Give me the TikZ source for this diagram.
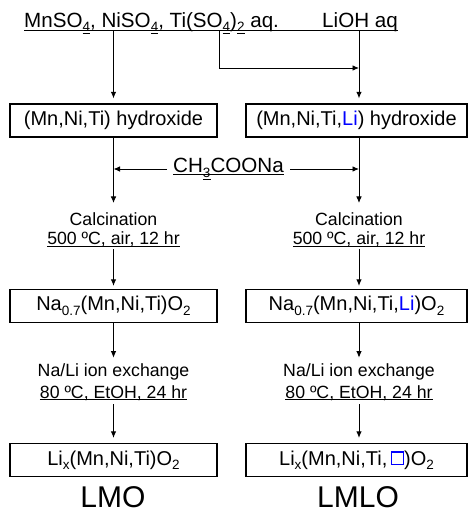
\documentclass[tikz,border=0pt]{standalone}
\usepackage{fontspec}
\setmainfont{Liberation Sans}
\usetikzlibrary{arrows.meta}
\newcommand\sbs[1]{\raisebox{-0.22em}{\fontsize{13.5}{13.5}\selectfont #1}}
\newcommand\ulin[1]{\underline{\smash{#1}}}
\newcommand\bluesq{\tikz[baseline=0pt]\draw[blue, line width=1.4pt] (0pt,0.5pt) rectangle (12pt,13pt);}
\begin{document}
\begin{tikzpicture}[x=1pt,y=-1pt,
  box/.style={draw, line width=1.3pt, inner sep=0pt, font=\fontsize{20}{24}\selectfont},
  boxL/.style={box, minimum width=207pt, minimum height=33pt},
  boxR/.style={box, minimum width=221pt, minimum height=33pt},
  lbl/.style={inner sep=0pt, font=\fontsize{17.7}{20}\selectfont},
  big/.style={inner sep=0pt, font=\fontsize{20.6}{24}\selectfont},
  huge/.style={inner sep=0pt, font=\fontsize{30}{34}\selectfont},
  arr/.style={-{Latex[length=6.5pt,width=5.5pt]}, line width=0.9pt},
  ln/.style={line width=0.9pt}]
\useasboundingbox (0,0) rectangle (468,515);

% sources
\node[big, anchor=base west] (srcL) at (24,27) {MnSO\sbs{\underline{4}}, NiSO\sbs{\underline{4}}, Ti(SO\sbs{\underline{4}})\sbs{\underline{2}} aq.};
\node[big, anchor=base east] (srcR) at (398,27) {LiOH aq};
\coordinate (lineL) at (24,30);
\coordinate (lineR) at (398,30);
\coordinate (jL) at (113.5,30);
\coordinate (jM) at (219,30);
\coordinate (jR) at (359,30);
\coordinate (bend) at (219,68);
\draw[ln] (lineL) -- (lineR);

% boxes
\node[boxL] (hydL) at (113.5,120.5) {(Mn,Ni,Ti) hydroxide};
\node[boxR] (hydR) at (356.5,120.5) {(Mn,Ni,Ti,\textcolor{blue}{Li}) hydroxide};
\node[boxL] (naL) at (113.5,306) {Na\sbs{0.7}(Mn,Ni,Ti)O\sbs{2}};
\node[boxR] (naR) at (356.5,306) {Na\sbs{0.7}(Mn,Ni,Ti,\textcolor{blue}{Li})O\sbs{2}};
\node[boxL] (liL) at (113.5,460) {Li\sbs{x}(Mn,Ni,Ti)O\sbs{2}};
\node[boxR] (liR) at (356.5,460) {Li\sbs{x}(Mn,Ni,Ti,\,\bluesq)O\sbs{2}};

% labels
\node[lbl, anchor=base] (calL1) at (113.5,225) {Calcination};
\node[lbl, anchor=base] (calL2) at (113.5,244.5) {\ulin{500 ºC, air, 12 hr}};
\node[lbl, anchor=base] (calR1) at (359,225) {Calcination};
\node[lbl, anchor=base] (calR2) at (359,244.5) {\ulin{500 ºC, air, 12 hr}};
\node[lbl, anchor=base] (exL1) at (113.5,376.5) {Na/Li ion exchange};
\node[lbl, anchor=base] (exL2) at (113.5,398) {\ulin{80 ºC, EtOH, 24 hr}};
\node[lbl, anchor=base] (exR1) at (359,376.5) {Na/Li ion exchange};
\node[lbl, anchor=base] (exR2) at (359,398) {\ulin{80 ºC, EtOH, 24 hr}};
\node[big, anchor=base] (ch) at (228.5,172.7) {\ulin{CH\smash{\sbs{\underline{3}}}COONa}};
\coordinate (chL) at (167,169);
\coordinate (chR) at (290,169);

\node[huge, anchor=base] (lmo) at (113,507) {LMO};
\node[huge, anchor=base] (lmlo) at (358,507) {LMLO};

% arrows
\draw[arr, shorten >=5pt] (jL) -- (jL |- hydL.north);
\draw[arr, shorten >=5pt] (jR) -- (jR |- hydR.north);
\draw[arr] (jM) -- (bend) -- (bend -| jR);

\draw[arr, shorten >=9pt] (hydL.south) -- (calL1.north);
\draw[arr, shorten >=9pt] (jR |- hydR.south) -- (calR1.north);
\draw[arr] (chL) -- (chL -| jL);
\draw[arr] (chR) -- (chR -| jR);

\draw[arr, shorten <=2.7pt, shorten >=3pt] (calL2.south) -- (naL.north);
\draw[arr, shorten <=2.7pt, shorten >=3pt] (calR2.south) -- (calR2.south |- naR.north);
\draw[arr, shorten >=5.8pt] (naL.south) -- (exL1.north);
\draw[arr, shorten >=5.8pt] (exR1.north |- naR.south) -- (exR1.north);
\draw[arr, shorten <=4pt, shorten >=5pt] (exL2.south) -- (liL.north);
\draw[arr, shorten <=4pt, shorten >=5pt] (exR2.south) -- (exR2.south |- liR.north);
\end{tikzpicture}
\end{document}
